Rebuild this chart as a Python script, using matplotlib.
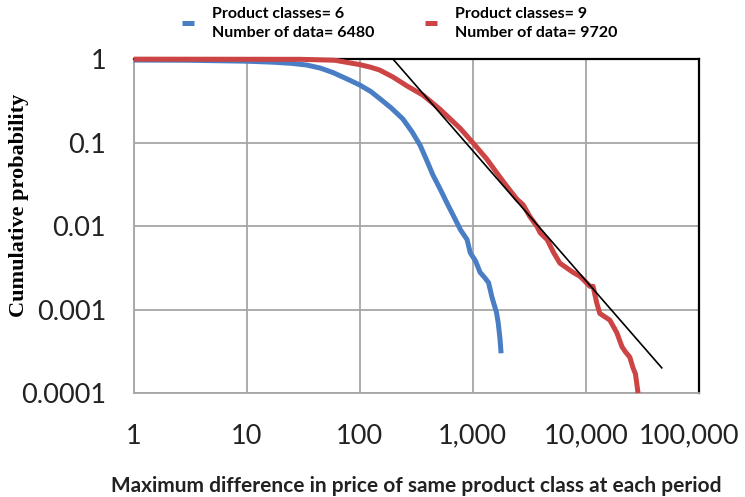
import matplotlib.pyplot as plt
import matplotlib.transforms as mtransforms
import numpy as np

# cumulative distribution, 6 product classes
x_six = [1, 3, 10, 17, 25, 34, 45, 58, 78, 100, 125, 151, 190, 240, 290, 342,
         390, 444, 520, 590, 680, 780, 890, 950, 1060, 1160, 1280, 1380, 1480,
         1560, 1620, 1680, 1740, 1780]
p_six = [0.975, 0.97, 0.945, 0.92, 0.89, 0.85, 0.78, 0.69, 0.575, 0.49, 0.41,
         0.335, 0.26, 0.193, 0.135, 0.093, 0.062, 0.041, 0.027, 0.019, 0.013,
         0.009, 0.0069, 0.0048, 0.0038, 0.0028, 0.0024, 0.0021, 0.0014, 0.0011,
         0.00093, 0.00069, 0.00045, 0.0003]

# cumulative distribution, 9 product classes
x_nine = [1, 30, 60, 100, 125, 150, 197, 260, 363, 515, 778, 1000, 1325, 1620,
          2000, 2460, 2790, 3200, 3700, 3950, 4550, 5200, 5900, 7700, 8900,
          10900, 11600, 12500, 13300, 16300, 18800, 20900, 22500, 24500, 26200,
          27500, 29000]
p_nine = [1.0, 0.995, 0.97, 0.86, 0.80, 0.74, 0.61, 0.48, 0.37, 0.25, 0.147,
          0.10, 0.064, 0.044, 0.030, 0.021, 0.018, 0.013, 0.0099, 0.0083, 0.0069,
          0.0048, 0.0036, 0.0028, 0.0025, 0.0019, 0.0019, 0.0012, 0.0009,
          0.00075, 0.00053, 0.00036, 0.00031, 0.00027, 0.0002, 0.00017, 0.0001]

# power-law fit to the tail
fit_x0 = 197
fit_x1 = 47000
fit_slope = -1.555

x_ticks = [1, 10, 100, 1000, 10000, 100000]
x_tick_labels = ["1", "10", "100", "1,000", "10,000", "100,000"]
y_ticks = [1, 0.1, 0.01, 0.001, 0.0001]
y_tick_labels = ["1", "0.1", "0.01", "0.001", "0.0001"]

blue = "#4a7ec4"
red = "#cc4444"
grid_gray = "#a6a6a6"

fig = plt.figure(figsize=(7.45, 4.97), dpi=100)
ax = fig.add_axes([0.1795, 0.209, 0.7585, 0.672])

ax.set_xscale("log")
ax.set_yscale("log")
ax.set_xlim(1, 100000)
ax.set_ylim(0.0001, 1)

ax.grid(True, which="major", color=grid_gray, linewidth=1.3)
ax.minorticks_off()
ax.set_axisbelow(True)

fit_x = np.array([fit_x0, fit_x1], dtype=float)
fit_y = (fit_x / fit_x0) ** fit_slope

l_six, = ax.plot(x_six, p_six, color=blue, linewidth=3.6, clip_on=False,
                 solid_capstyle="butt", solid_joinstyle="round", zorder=3)
l_nine, = ax.plot(x_nine, p_nine, color=red, linewidth=3.6, clip_on=False,
                  solid_capstyle="butt", solid_joinstyle="round", zorder=4)
ax.plot(fit_x, fit_y, color="black", linewidth=1.2, zorder=5)

ax.set_xticks(x_ticks)
ax.set_xticklabels(x_tick_labels)
ax.set_yticks(y_ticks)
ax.set_yticklabels(y_tick_labels)
ax.tick_params(axis="both", length=0, labelsize=19.5, colors="#222222")
ax.tick_params(axis="x", pad=22)
ax.tick_params(axis="y", pad=20)
for lab in ax.get_xticklabels() + ax.get_yticklabels():
    lab.set_family("Lato")

# the last x label sits a little left so it stays inside the figure
last = ax.get_xticklabels()[-1]
last.set_transform(last.get_transform() +
                   mtransforms.ScaledTranslation(-0.1, 0, fig.dpi_scale_trans))

for side in ("left", "bottom"):
    ax.spines[side].set_color(grid_gray)
    ax.spines[side].set_linewidth(1.3)
for side in ("top", "right"):
    ax.spines[side].set_color("black")
    ax.spines[side].set_linewidth(1.6)

ax.set_ylabel("Cumulative probability", family="Liberation Serif",
              fontweight="bold", fontsize=16)
ax.yaxis.set_label_coords(-0.185, 0.563)
ax.set_xlabel("Maximum difference in price of same product class at each period",
              family="Lato", fontweight="bold", fontsize=15, labelpad=20,
              color="#222222")

leg = fig.legend([l_six, l_nine],
                 ["Product classes= 6\nNumber of data= 6480",
                  "Product classes= 9\nNumber of data= 9720"],
                 loc="center left", bbox_to_anchor=(0.225, 0.953), ncol=2,
                 frameon=False, handlelength=0.75, handletextpad=1.1,
                 columnspacing=3.2,
                 prop={"family": "Lato", "weight": "bold", "size": 11.5})
for t in leg.get_texts():
    t.set_linespacing(1.45)

fig.savefig("out.png", dpi=100)
